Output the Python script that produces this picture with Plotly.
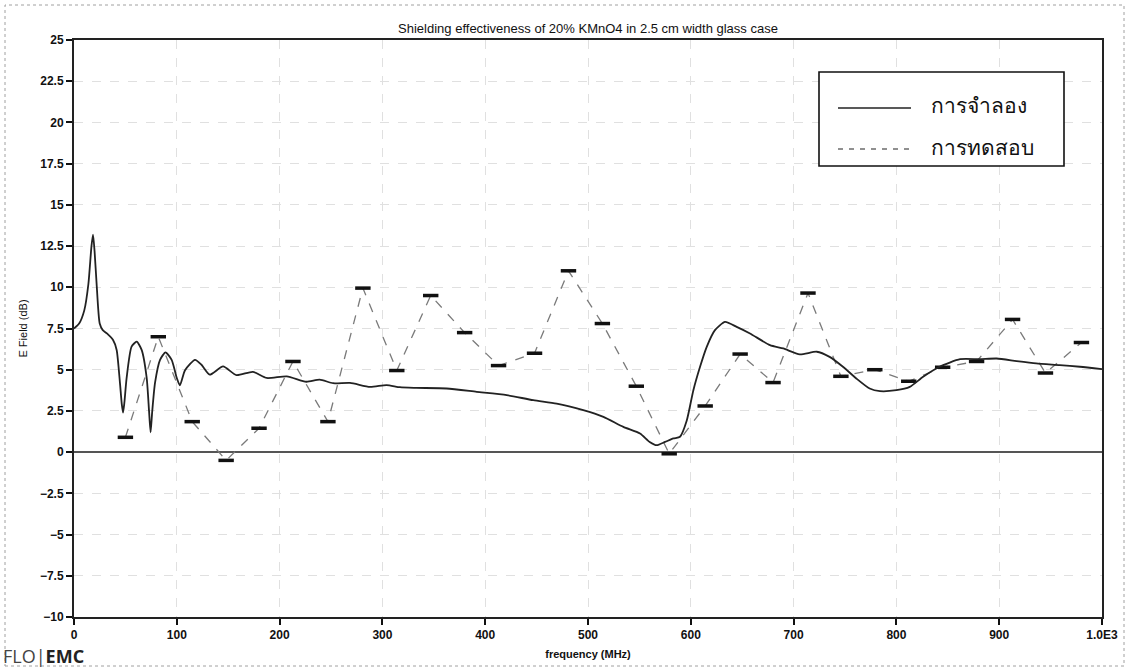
import plotly.graph_objects as go

# ---- data ----
sim_freq = [0, 5, 10, 14, 17, 18.5, 20, 22, 25, 28, 32, 38, 41.5, 44.7, 46.5, 47.7, 49, 51.2,
            56, 61, 65.8, 70.7, 73, 74.5, 76, 78.8, 83.7, 89, 95, 100, 103, 108, 117.7, 124,
            132, 145, 158, 174, 187.5, 207, 226, 239, 252, 268.5, 288, 304, 317, 333, 362.5,
            391.7, 421, 446.8, 469.5, 495.4, 515, 534.4, 550.6, 560, 566.8, 575, 583, 589.5,
            596, 602.5, 609, 615.5, 623.5, 633.3, 644.6, 657.6, 677, 690, 706, 722.5, 735,
            748, 761, 774, 784, 800, 813, 826, 842, 862, 881, 897.5, 917, 936, 959, 978.6, 1000]
sim_db = [7.5, 7.8, 8.6, 10.2, 12.5, 13.2, 12.2, 10.2, 7.8, 7.4, 7.2, 6.8, 6.2, 4.2, 2.9, 2.4, 3.0, 4.5,
          6.4, 6.7, 6.2, 4.5, 2.5, 1.2, 2.4, 4.2, 5.6, 6.05, 5.6, 4.5, 4.05, 4.97, 5.6, 5.3,
          4.7, 5.2, 4.67, 4.87, 4.5, 4.6, 4.27, 4.4, 4.18, 4.2, 3.96, 4.07, 3.94, 3.9, 3.86,
          3.66, 3.46, 3.15, 2.95, 2.55, 2.14, 1.53, 1.13, 0.62, 0.42, 0.62, 0.83, 0.93,
          1.9, 3.76, 5.18, 6.39, 7.4, 7.9, 7.6, 7.2, 6.49, 6.29, 5.93, 6.09, 5.78,
          5.18, 4.47, 3.86, 3.7, 3.76, 3.96, 4.57, 5.18, 5.64, 5.64, 5.68, 5.52, 5.38, 5.28, 5.18, 5.04]

meas_freq = [50, 82, 115, 148, 180, 213, 247, 281, 314, 347, 380, 413, 448, 481, 514, 547, 579,
             614, 648, 680, 714, 746, 779, 812, 845, 878, 913, 945, 980]
meas_db = [0.9, 7.0, 1.85, -0.5, 1.45, 5.5, 1.85, 9.95, 4.95, 9.5, 7.25, 5.25, 6.0, 11.0, 7.8, 4.0, -0.1,
           2.8, 5.95, 4.22, 9.65, 4.6, 5.0, 4.3, 5.15, 5.5, 8.05, 4.8, 6.65]

x_ticks = [0, 100, 200, 300, 400, 500, 600, 700, 800, 900, 1000]
x_ticktext = ["0", "100", "200", "300", "400", "500", "600", "700", "800", "900", "1.0E3"]
y_ticks = [-10, -7.5, -5, -2.5, 0, 2.5, 5, 7.5, 10, 12.5, 15, 17.5, 20, 22.5, 25]

sim_name = "การจำลอง"
meas_name = "การทดสอบ"
title_text = "Shielding effectiveness of 20% KMnO4 in 2.5 cm width glass case"

fig = go.Figure()
fig.add_trace(go.Scatter(x=meas_freq, y=meas_db, name=meas_name, mode="lines+markers",
                         line=dict(color="#7a7a7a", width=1.3, dash="dash"),
                         marker=dict(symbol="line-ew", size=11, color="#111",
                                     line=dict(color="#111", width=3.5)),
                         showlegend=False))
fig.add_trace(go.Scatter(x=sim_freq, y=sim_db, name=sim_name, mode="lines",
                         line=dict(color="#222", width=1.8, shape="spline", smoothing=0.6),
                         showlegend=False))

L, R, T, B = 74, 27, 40, 53
W, H = 1129, 670
pw, ph = W - L - R, H - T - B

def px(xp):
    return (xp - L) / pw

def py(yp):
    return (H - B - yp) / ph

font_main = "Arial, Liberation Sans, sans-serif"
thai_font = "Tahoma, DejaVu Sans, Noto Sans, sans-serif"

shapes = [
    # outer frame of the picture
    dict(type="rect", xref="paper", yref="paper", x0=px(5), x1=px(1124), y0=py(666), y1=py(5),
         line=dict(color="#a0a0a0", width=1, dash="dot")),
    # legend box
    dict(type="rect", xref="paper", yref="paper", x0=px(819), x1=px(1064), y0=py(166), y1=py(72),
         line=dict(color="#111", width=1.6), fillcolor="white", layer="above"),
    dict(type="line", xref="paper", yref="paper", x0=px(838), x1=px(911), y0=py(108), y1=py(108),
         line=dict(color="#222", width=1.5), layer="above"),
    dict(type="line", xref="paper", yref="paper", x0=px(838), x1=px(911), y0=py(149), y1=py(149),
         line=dict(color="#222", width=1.2, dash="5px,6px"), layer="above"),
]

annotations = [
    dict(text=sim_name, xref="paper", yref="paper", x=px(929), y=py(106), xanchor="left",
         yanchor="middle", showarrow=False, font=dict(size=21, color="#111", family=thai_font)),
    dict(text=meas_name, xref="paper", yref="paper", x=px(929), y=py(148), xanchor="left",
         yanchor="middle", showarrow=False, font=dict(size=21, color="#111", family=thai_font)),
    dict(text="<span style='color:#444'>FLO|</span><b>EMC</b>", xref="paper", yref="paper",
         x=px(1), y=py(656), xanchor="left", yanchor="middle", showarrow=False,
         font=dict(size=18, color="#222", family="Open Sans, Arial, sans-serif")),
]

fig.update_layout(
    width=W, height=H,
    margin=dict(l=L, r=R, t=T, b=B),
    paper_bgcolor="white", plot_bgcolor="white",
    title=dict(text=title_text, x=0.5, xref="paper", y=1 - 28 / H, yref="container",
               xanchor="center", yanchor="middle",
               font=dict(size=13, color="#111", family=font_main)),
    font=dict(family=font_main, color="#111"),
    shapes=shapes, annotations=annotations,
    showlegend=False,
)

tick_font = dict(size=12, color="#111", family=font_main, weight="bold")
fig.update_xaxes(range=[0, 1000], tickvals=x_ticks, ticktext=x_ticktext,
                 ticks="outside", ticklen=6, tickwidth=2, tickcolor="#111",
                 showline=True, linecolor="#222", linewidth=2, mirror=True,
                 showgrid=True, gridcolor="#e0e0e0", gridwidth=1, griddash="dash",
                 zeroline=False, tickfont=tick_font,
                 title=dict(text="<b>frequency (MHz)</b>", standoff=9,
                            font=dict(size=11, color="#111", family=font_main)))
fig.update_yaxes(range=[-10, 25], tickvals=y_ticks,
                 ticks="outside", ticklen=6, tickwidth=2, tickcolor="#111",
                 showline=True, linecolor="#222", linewidth=2, mirror=True,
                 showgrid=True, gridcolor="#e0e0e0", gridwidth=1, griddash="dash",
                 zeroline=True, zerolinecolor="#555", zerolinewidth=2, tickfont=tick_font,
                 title=dict(text="E Field (dB)", standoff=10,
                            font=dict(size=11, color="#111", family=font_main)))

fig.write_html("out.html", config={"displayModeBar": False},
               post_script="document.body.style.margin='0';")
